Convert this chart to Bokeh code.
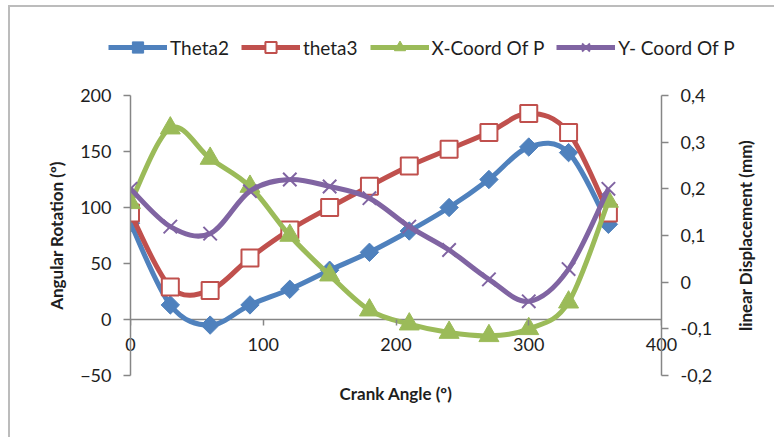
import numpy as np
from bokeh.plotting import figure
from bokeh.layouts import column, row
from bokeh.models import (Range1d, LinearAxis, FixedTicker, Legend, LegendItem, Span)
from bokeh.embed import file_html
from bokeh.resources import INLINE

# ---------------- data ----------------
crank_angle = [0, 30, 60, 90, 120, 150, 180, 210, 240, 270, 300, 330, 360]
theta2 = [86, 13, -5, 13, 27, 44, 60, 79, 100, 125, 154, 149, 85]
theta3 = [95, 29, 26, 55, 80, 100, 119, 137, 152, 167, 184, 167, 95]
x_coord_p = [0.17, 0.33, 0.265, 0.205, 0.10, 0.015, -0.06, -0.09, -0.108, -0.115, -0.10, -0.043, 0.173]
y_coord_p = [0.20, 0.119, 0.104, 0.195, 0.22, 0.205, 0.18, 0.119, 0.069, 0.006, -0.041, 0.028, 0.20]

series_names = ["Theta2", "theta3", "X-Coord Of P", "Y- Coord Of P"]
x_ticks = [0, 100, 200, 300, 400]
left_ticks = [-50, 0, 50, 100, 150, 200]
right_ticks = [-0.2, -0.1, 0, 0.1, 0.2, 0.3, 0.4]
right_tick_labels = ["-0,2", "-0,1", "0", "0,1", "0,2", "0,3", "0,4"]

FONT = "Lato"
TEXT = "#1e1e1e"
AXIS = "#868686"
LW = 5
colors = ["#4F81BD", "#C0504D", "#9BBB59", "#8064A2"]


def smooth_segments(x, y):
    """Catmull-Rom style control points (Excel 'smoothed line')."""
    x = np.asarray(x, float)
    y = np.asarray(y, float)
    xp = np.concatenate([[x[0]], x, [x[-1]]])
    yp = np.concatenate([[y[0]], y, [y[-1]]])
    return dict(
        x0=xp[1:-2], y0=yp[1:-2], x1=xp[2:-1], y1=yp[2:-1],
        cx0=xp[1:-2] + (xp[2:-1] - xp[0:-3]) / 6.0,
        cy0=yp[1:-2] + (yp[2:-1] - yp[0:-3]) / 6.0,
        cx1=xp[2:-1] - (xp[3:] - xp[1:-2]) / 6.0,
        cy1=yp[2:-1] - (yp[3:] - yp[1:-2]) / 6.0,
    )


def add_series(fig, second_range):
    kw2 = {"y_range_name": "disp"} if second_range else {}
    b1 = fig.bezier(**smooth_segments(crank_angle, theta2), line_color=colors[0], line_width=LW)
    s1 = fig.scatter(crank_angle, theta2, marker="square", angle=np.pi / 4, size=13,
                     fill_color=colors[0], line_color=colors[0], line_width=1)
    b2 = fig.bezier(**smooth_segments(crank_angle, theta3), line_color=colors[1], line_width=LW)
    s2 = fig.scatter(crank_angle, theta3, marker="square", size=17,
                     fill_color="white", line_color=colors[1], line_width=2)
    b3 = fig.bezier(**smooth_segments(crank_angle, x_coord_p), line_color=colors[2],
                    line_width=LW, **kw2)
    s3 = fig.scatter(crank_angle, x_coord_p, marker="triangle", size=20,
                     fill_color=colors[2], line_color=colors[2], line_width=1, **kw2)
    b4 = fig.bezier(**smooth_segments(crank_angle, y_coord_p), line_color=colors[3],
                    line_width=LW, **kw2)
    s4 = fig.scatter(crank_angle, y_coord_p, marker="x", size=19,
                     line_color=colors[3], line_width=2, **kw2)
    return [(b1, s1), (b2, s2), (b3, s3), (b4, s4)]


def style_axis(ax):
    ax.axis_line_color = AXIS
    ax.axis_line_width = 1.5
    ax.major_tick_line_color = AXIS
    ax.major_tick_line_width = 1.5
    ax.minor_tick_line_color = None
    ax.major_label_text_font = FONT
    ax.major_label_text_font_size = "18px"
    ax.major_label_text_color = TEXT
    ax.axis_label_text_font = FONT
    ax.axis_label_text_font_size = "17px"
    ax.axis_label_text_font_style = "bold"
    ax.axis_label_text_color = TEXT


# ---------------- main chart ----------------
p = figure(width=721, height=370,
           x_range=Range1d(0, 400), y_range=Range1d(-50, 200),
           x_axis_location=None, y_axis_location=None,
           output_backend="svg", toolbar_location=None,
           min_border_left=120, min_border_right=70,
           min_border_top=28, min_border_bottom=62)
p.extra_y_ranges = {"disp": Range1d(-0.2, 0.4)}
p.outline_line_color = None
p.grid.visible = False
p.background_fill_color = "white"
p.border_fill_color = "white"

# horizontal axis line at y = 0 (behind the series)
p.add_layout(Span(location=0, dimension="width", line_color=AXIS, line_width=1.5,
                  level="underlay"))

# x axis ticks crossing at 0 (labels drawn by the axis below)
xaxis = LinearAxis(fixed_location=0, ticker=FixedTicker(ticks=x_ticks))
style_axis(xaxis)
xaxis.axis_line_color = None
xaxis.major_tick_in = 0
xaxis.major_tick_out = 6
xaxis.major_label_text_color = None
p.add_layout(xaxis, "below")

# x tick labels + title (pulled up next to the zero line)
xlab = LinearAxis(ticker=FixedTicker(ticks=x_ticks), axis_label="Crank Angle (º)")
style_axis(xlab)
xlab.axis_line_color = None
xlab.major_tick_line_color = None
xlab.major_tick_out = 0
xlab.major_tick_in = 0
xlab.major_label_standoff = -38
xlab.axis_label_standoff = 29
p.add_layout(xlab, "below")

# left axis
yaxis = LinearAxis(ticker=FixedTicker(ticks=left_ticks), axis_label="Angular Rotation (º)")
style_axis(yaxis)
yaxis.major_tick_in = 0
yaxis.major_tick_out = 7
yaxis.major_label_standoff = 12
yaxis.axis_label_standoff = 10
p.add_layout(yaxis, "left")

# right axis (ticks and labels)
raxis = LinearAxis(y_range_name="disp", ticker=FixedTicker(ticks=right_ticks))
style_axis(raxis)
raxis.major_tick_in = 0
raxis.major_tick_out = 7
raxis.major_label_standoff = 12
raxis.major_label_overrides = dict(zip(right_ticks, right_tick_labels))
p.add_layout(raxis, "right")

add_series(p, True)

# ---------------- right-hand title strip (text reads bottom-to-top) ----------------
tf = figure(width=43, height=370, x_range=Range1d(0, 1), y_range=Range1d(0, 1),
            x_axis_location=None, y_axis_location=None,
            output_backend="svg", toolbar_location=None,
            min_border_left=0, min_border_right=0,
            min_border_top=28, min_border_bottom=62)
tf.outline_line_color = None
tf.grid.visible = False
tf.border_fill_color = "white"
tf.background_fill_color = "white"
rtitle = LinearAxis(ticker=FixedTicker(ticks=[]), axis_label="linear Displacement (mm)")
style_axis(rtitle)
rtitle.axis_line_color = None
rtitle.major_tick_out = 0
rtitle.major_tick_in = 0
rtitle.major_label_standoff = 0
rtitle.axis_label_standoff = 0
tf.add_layout(rtitle, "left")

# ---------------- legend strip ----------------
lf = figure(width=764, height=60,
            x_range=Range1d(1000, 1001), y_range=Range1d(1000, 1001),
            x_axis_location=None, y_axis_location=None,
            output_backend="svg", toolbar_location=None,
            min_border_left=0, min_border_right=0, min_border_top=0, min_border_bottom=0)
lf.outline_line_color = None
lf.grid.visible = False
lf.border_fill_color = "white"
lf.background_fill_color = "white"
for fig in (lf, p, tf):
    try:
        fig.frame_align = False
    except Exception:
        pass
pairs = add_series(lf, False)

legend = Legend(items=[LegendItem(label=name, renderers=list(rs))
                       for name, rs in zip(series_names, pairs)],
                orientation="horizontal", location=(98, 6))
legend.padding = 0
legend.margin = 0
legend.spacing = 12
legend.glyph_width = 59
legend.glyph_height = 28
legend.label_standoff = 3
legend.label_text_font = FONT
legend.label_text_font_size = "19px"
legend.label_text_color = TEXT
legend.border_line_color = None
legend.background_fill_alpha = 0
lf.add_layout(legend)

page = column(lf, row(p, tf, spacing=0), spacing=0,
              styles={"margin-left": "8px", "margin-top": "5px",
                      "border-left": "2px solid #bcbcbc", "border-top": "2px solid #bcbcbc"})

open("out.html", "w").write(file_html(page, INLINE))
